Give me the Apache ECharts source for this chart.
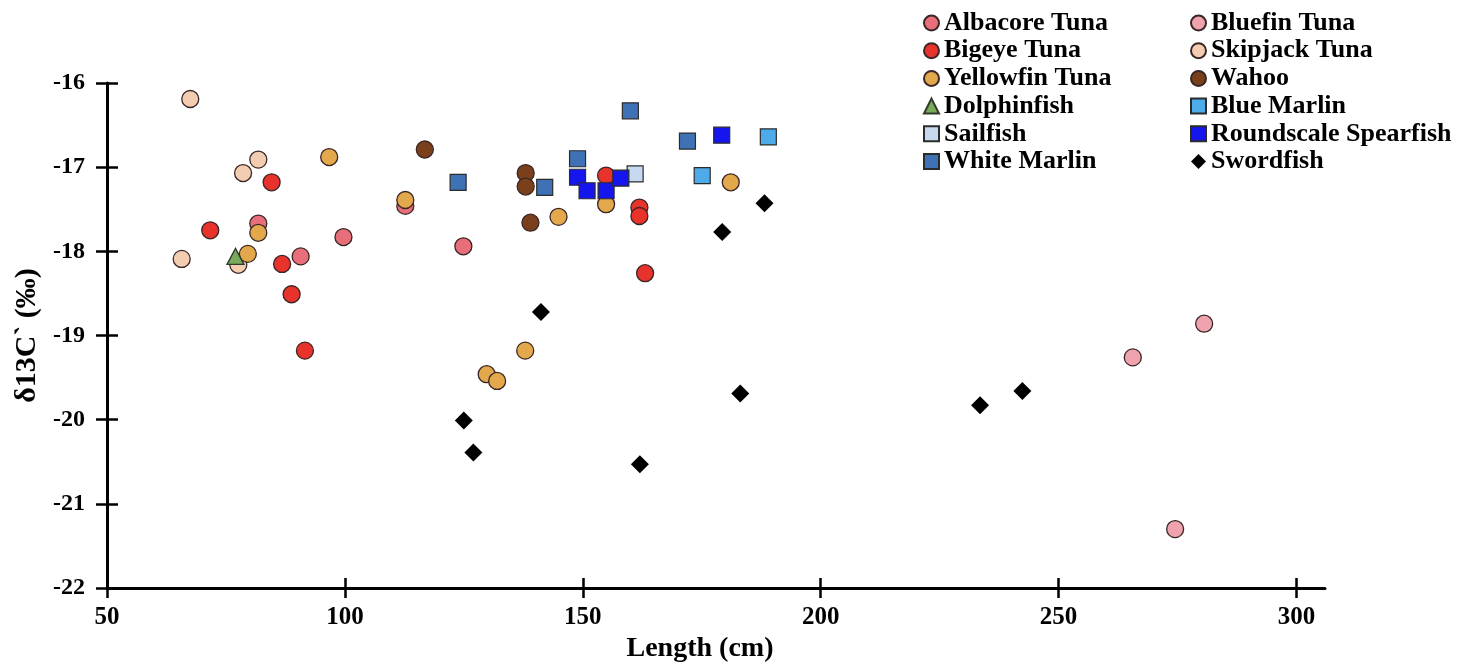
<!DOCTYPE html>
<html>
<head>
<meta charset="utf-8">
<script src="https://cdn.jsdelivr.net/npm/echarts@6/dist/echarts.min.js"></script>
<style>
  html, body { margin: 0; padding: 0; background: #fff; }
  #chart { width: 1480px; height: 664px; }
</style>
</head>
<body>
<div id="chart"></div>
<script>
// Body length (cm) vs. δ13C (‰) for each species, as [length, δ13C]
const albacore   = [[81.8, -17.67], [90.7, -18.06], [99.7, -17.83], [112.7, -17.46], [124.9, -17.94]];
const bluefin    = [[265.6, -19.26], [280.6, -18.86], [274.5, -21.30]];
const bigeye     = [[71.7, -17.75], [84.6, -17.18], [86.8, -18.15], [88.8, -18.51], [91.6, -19.18],
                    [154.9, -17.10], [161.9, -17.48], [161.9, -17.58], [163.1, -18.26]];
const skipjack   = [[67.5, -16.19], [78.6, -17.07], [81.8, -16.91], [65.7, -18.09], [77.6, -18.16]];
const yellowfin  = [[81.8, -17.78], [79.6, -18.03], [96.7, -16.88], [112.7, -17.39], [144.9, -17.59],
                    [154.9, -17.44], [181.1, -17.18], [137.9, -19.18], [129.8, -19.46], [132.0, -19.54]];
const wahoo      = [[116.8, -16.79], [138.0, -17.07], [138.0, -17.23], [139.0, -17.66]];
const dolphin    = [[77.0, -18.06]];
const blueMarlin = [[175.1, -17.10], [189.0, -16.64]];
const sailfish   = [[161.0, -17.08]];
const roundscale = [[148.9, -17.12], [150.9, -17.28], [154.9, -17.28], [158.0, -17.13], [179.2, -16.62]];
const whiteMarlin= [[123.8, -17.18], [142.0, -17.24], [148.9, -16.90], [160.0, -16.33], [172.0, -16.69]];
const swordfish  = [[125.0, -20.01], [127.0, -20.39], [141.2, -18.72], [162.0, -20.53], [179.3, -17.77],
                    [183.1, -19.69], [188.2, -17.43], [233.5, -19.83], [242.4, -19.66]];

const xTicks = [50, 100, 150, 200, 250, 300];
const yTicks = [-22, -21, -20, -19, -18, -17, -16];

const FONT = '"Liberation Serif", "Times New Roman", serif';

// plot box
const GRID = { left: 107, right: 155, top: 83, bottom: 76 };
const GRID_W = 1480 - GRID.left - GRID.right;
const GRID_H = 664 - GRID.top - GRID.bottom;

function circle(name, data, color) {
  return { name, type: 'scatter', data, symbol: 'circle', symbolSize: 17,
    itemStyle: { color, borderColor: '#3a2626', borderWidth: 1.3, opacity: 1 } };
}
function square(name, data, color) {
  return { name, type: 'scatter', data, symbol: 'rect', symbolSize: 16,
    itemStyle: { color, borderColor: '#2b2b2b', borderWidth: 1.2, opacity: 1 } };
}

const series = [
  circle('Skipjack Tuna', skipjack, '#F3CDB2'),
  circle('Bluefin Tuna', bluefin, '#EFA3AE'),
  circle('Albacore Tuna', albacore, '#E86F7A'),
  circle('Bigeye Tuna', bigeye, '#E7332B'),
  circle('Yellowfin Tuna', yellowfin, '#E2A84B'),
  circle('Wahoo', wahoo, '#7A3F1B'),
  { name: 'Dolphinfish', type: 'scatter', data: dolphin, symbol: 'triangle', symbolSize: [17, 16],
    itemStyle: { color: '#79A95A', borderColor: '#2f3a2a', borderWidth: 1.3, opacity: 1 } },
  square('Sailfish', sailfish, '#C6D9EF'),
  square('White Marlin', whiteMarlin, '#3E72B4'),
  square('Blue Marlin', blueMarlin, '#4CABE8'),
  square('Roundscale Spearfish', roundscale, '#1515EE'),
  { name: 'Swordfish', type: 'scatter', data: swordfish, symbol: 'diamond', symbolSize: 18,
    itemStyle: { color: '#000000', opacity: 1 } }
];

const legendBase = {
  orient: 'vertical', top: 5, itemWidth: 15, itemHeight: 15, itemGap: 1.7,
  textStyle: { fontFamily: FONT, fontWeight: 'bold', fontSize: 26, color: '#000', lineHeight: 26 },
  selectedMode: false
};

const tickStyle = { color: '#000', width: 2.5 };

const option = {
  backgroundColor: '#ffffff',
  animation: false,
  textStyle: { fontFamily: FONT },
  legend: [
    Object.assign({}, legendBase, { left: 918,
      data: ['Albacore Tuna', 'Bigeye Tuna', 'Yellowfin Tuna', 'Dolphinfish', 'Sailfish', 'White Marlin'] }),
    Object.assign({}, legendBase, { left: 1185,
      data: ['Bluefin Tuna', 'Skipjack Tuna', 'Wahoo', 'Blue Marlin', 'Roundscale Spearfish', 'Swordfish'] })
  ],
  grid: Object.assign({ containLabel: false, outerBoundsMode: 'none' }, GRID),
  xAxis: [
    { type: 'value', min: 50, max: 306, interval: 50, position: 'bottom',
      name: 'Length (cm)', nameLocation: 'middle', nameGap: 44,
      nameTextStyle: { fontFamily: FONT, fontWeight: 'bold', fontSize: 28, color: '#000', padding: [0, 32, 0, 0] },
      axisLine: { show: true, onZero: false, lineStyle: { color: '#000', width: 3 } },
      axisTick: { show: true, length: 10, inside: false, customValues: xTicks, lineStyle: tickStyle },
      axisLabel: { customValues: xTicks, margin: 17, fontFamily: FONT, fontWeight: 'bold', fontSize: 25, color: '#000' },
      splitLine: { show: false } },
    // upper half of each tick: a second axis moved onto the bottom edge
    { type: 'value', min: 50, max: 306, interval: 50, position: 'top', offset: -GRID_H,
      axisLine: { show: false, onZero: false },
      axisTick: { show: true, length: 10, inside: false, customValues: xTicks, lineStyle: tickStyle },
      axisLabel: { show: false }, splitLine: { show: false } }
  ],
  yAxis: [
    { type: 'value', min: -22, max: -16, interval: 1, position: 'left',
      name: 'δ13C` (‰)', nameLocation: 'middle', nameGap: 62, nameRotate: 90,
      nameTextStyle: { fontFamily: FONT, fontWeight: 'bold', fontSize: 30, color: '#000' },
      axisLine: { show: true, onZero: false, lineStyle: { color: '#000', width: 3 } },
      axisTick: { show: true, length: 11, inside: false, customValues: yTicks, lineStyle: tickStyle },
      axisLabel: { customValues: yTicks, margin: 22, fontFamily: FONT, fontWeight: 'bold', fontSize: 24, color: '#000' },
      splitLine: { show: false } },
    // right half of each tick: a second axis moved onto the left edge
    { type: 'value', min: -22, max: -16, interval: 1, position: 'right', offset: -GRID_W,
      axisLine: { show: false, onZero: false },
      axisTick: { show: true, length: 11, inside: false, customValues: yTicks, lineStyle: tickStyle },
      axisLabel: { show: false }, splitLine: { show: false } }
  ],
  series
};

const chart = echarts.init(document.getElementById('chart'), null, { renderer: 'canvas' });
chart.setOption(option);
</script>
</body>
</html>
